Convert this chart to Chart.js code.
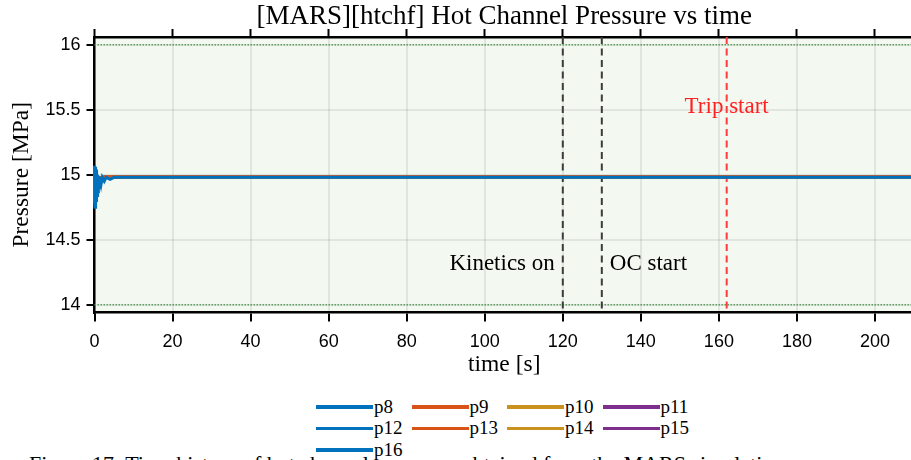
<!DOCTYPE html>
<html>
<head>
<meta charset="utf-8">
<title>Hot Channel Pressure</title>
<script src="https://cdn.jsdelivr.net/npm/chart.js@4.4.1/dist/chart.umd.min.js"></script>
<style>
  html, body { margin: 0; padding: 0; background: #fff; overflow: hidden; width: 911px; height: 460px; }
  #wrap { position: absolute; left: 0; top: 0; width: 914px; height: 380px; }
  #legend {
    position: absolute; left: 316px; top: 396px;
    display: grid; grid-template-columns: repeat(4, 95.5px); grid-auto-rows: 21.5px;
    font-family: 'Liberation Serif', serif; font-size: 19px; color: #000;
  }
  .item { display: flex; align-items: center; white-space: nowrap; }
  .swatch { width: 57px; height: 3.5px; margin-right: 1px; }
  #caption {
    position: absolute; left: 29px; top: 453px;
    font-family: 'Liberation Serif', serif; font-size: 22px; line-height: 1; white-space: nowrap;
  }
</style>
</head>
<body>
<div id="wrap"><canvas id="pressureChart"></canvas></div>
<div id="legend"></div>
<div id="caption">Figure 17: Time history of hot channel pressures obtained from the MARS simulation</div>
<script>
// series names and colours (colour order repeats every 4 channels)
const seriesNames = ['p8', 'p9', 'p10', 'p11', 'p12', 'p13', 'p14', 'p15', 'p16'];
const seriesColors = ['#0072BD', '#D95319', '#C9921E', '#7E2F8E', '#0072BD', '#D95319', '#C9921E', '#7E2F8E', '#0072BD'];

// time [s] for p8 (dense at the start to keep the initial transient)
const timeP8 = [0, 0.05, 0.1, 0.15, 0.2, 0.25, 0.3, 0.35, 0.4, 0.45, 0.5, 0.55, 0.6, 0.7, 0.8, 0.9, 1.0, 1.2, 1.4, 1.7, 2.0, 2.5, 3.0, 4.0, 5, 20, 60, 120, 130, 162, 180, 210];
// pressure [MPa]
const p8 = [15.07, 14.75, 15.07, 14.75, 15.06, 14.76, 15.05, 14.77, 15.04, 14.79, 15.03, 14.81, 15.02, 14.84, 15.0, 14.87, 14.99, 14.9, 14.985, 14.93, 14.98, 14.95, 14.98, 14.965, 14.98, 14.98, 14.98, 14.98, 14.98, 14.98, 14.981, 14.981];

// time [s] for the remaining channels
const timeOther = [0, 0.1, 0.2, 0.4, 0.8, 1.5, 3, 60, 120, 162, 210];
const p9  = [15.05, 14.80, 15.02, 14.88, 14.96, 14.975, 14.984, 14.984, 14.984, 14.985, 14.985];
const p10 = [15.04, 14.82, 15.01, 14.89, 14.96, 14.976, 14.984, 14.984, 14.984, 14.985, 14.985];
const p11 = [15.04, 14.83, 15.01, 14.90, 14.965, 14.977, 14.984, 14.984, 14.984, 14.985, 14.985];
const p12 = [15.06, 14.78, 15.03, 14.87, 14.955, 14.974, 14.982, 14.982, 14.982, 14.983, 14.983];
const p13 = [15.05, 14.79, 15.02, 14.88, 14.96, 14.975, 14.984, 14.984, 14.984, 14.985, 14.985];
const p14 = [15.04, 14.81, 15.01, 14.89, 14.96, 14.976, 14.984, 14.984, 14.984, 14.985, 14.985];
const p15 = [15.03, 14.84, 15.0, 14.90, 14.965, 14.977, 14.984, 14.984, 14.984, 14.985, 14.985];
const p16 = [15.06, 14.78, 15.03, 14.87, 14.955, 14.974, 14.982, 14.982, 14.982, 14.983, 14.983];

const seriesValues = [p8, p9, p10, p11, p12, p13, p14, p15, p16];
const seriesTimes = [timeP8, timeOther, timeOther, timeOther, timeOther, timeOther, timeOther, timeOther, timeOther];

// event times [s] and their labels
const eventTimes = [120, 130, 162];
const eventLabels = ['Kinetics on', 'OC start', 'Trip start'];
// pressure limits [MPa]
const limitLines = [16, 14];

// tick labels
const xTicks = [0, 20, 40, 60, 80, 100, 120, 140, 160, 180, 200];
const yTicks = [14, 14.5, 15, 15.5, 16];

const serif = "'Liberation Serif', 'Times New Roman', serif";
const sans = "'Liberation Sans', Arial, sans-serif";
const gridColor = 'rgba(0, 0, 0, 0.075)';

const datasets = seriesNames.map((name, i) => ({
  label: name,
  data: seriesTimes[i].map((t, k) => ({ x: t, y: seriesValues[i][k] })),
  borderColor: seriesColors[i],
  backgroundColor: seriesColors[i],
  borderWidth: 3,
  pointRadius: 0,
  tension: 0,
  clip: 3
}));

//light green plot background
const plotBackground = {
  id: 'plotBackground',
  beforeDraw(chart) {
    const { ctx, chartArea: a } = chart;
    ctx.save();
    ctx.fillStyle = '#f3f9f1';
    ctx.fillRect(a.left, a.top, a.right - a.left, a.bottom - a.top);
    ctx.restore();
  }
};

// limit lines, event lines and their labels
const eventMarkers = {
  id: 'eventMarkers',
  beforeDatasetsDraw(chart) {
    const { ctx, chartArea: a, scales } = chart;
    ctx.save();
    ctx.strokeStyle = '#5f9f5f';
    ctx.lineWidth = 1.5;
    ctx.setLineDash([1.5, 1.5]);
    limitLines.forEach(v => {
      const y = scales.y.getPixelForValue(v);
      ctx.beginPath();
      ctx.moveTo(a.left, y);
      ctx.lineTo(a.right, y);
      ctx.stroke();
    });
    ctx.lineWidth = 2;
    ctx.setLineDash([7, 4.5]);
    eventTimes.forEach((t, i) => {
      const x = scales.x.getPixelForValue(t);
      ctx.strokeStyle = i === 2 ? '#ff3b3b' : '#3c3c3c';
      ctx.beginPath();
      ctx.moveTo(x, a.top);
      ctx.lineTo(x, a.bottom);
      ctx.stroke();
    });
    ctx.restore();
  },
  afterDatasetsDraw(chart) {
    const { ctx, scales } = chart;
    ctx.save();
    ctx.font = '23px ' + serif;
    ctx.textBaseline = 'middle';
    const yLow = scales.y.getPixelForValue(14.31);
    const yHigh = scales.y.getPixelForValue(15.525);
    ctx.fillStyle = '#000';
    ctx.textAlign = 'right';
    ctx.fillText(eventLabels[0], scales.x.getPixelForValue(eventTimes[0]) - 8, yLow);
    ctx.textAlign = 'left';
    ctx.fillText(eventLabels[1], scales.x.getPixelForValue(eventTimes[1]) + 8, yLow);
    ctx.fillStyle = '#ff2020';
    ctx.textAlign = 'center';
    ctx.fillText(eventLabels[2], scales.x.getPixelForValue(eventTimes[2]), yHigh);
    ctx.restore();
  }
};

const ctx = document.getElementById('pressureChart').getContext('2d');
const myChart = new Chart(ctx, {
  type: 'line',
  data: { datasets: datasets },
  options: {
    responsive: true,
    maintainAspectRatio: false,
    animation: false,
    layout: { padding: 0 },
    plugins: {
      legend: { display: false },
      tooltip: { enabled: false },
      title: {
        display: true,
        fullSize: false,
        text: '[MARS][htchf] Hot Channel Pressure vs time',
        color: '#000',
        font: { family: serif, size: 27, weight: 'normal' },
        padding: { top: 1, bottom: 0 }
      }
    },
    scales: {
      x: {
        type: 'linear',
        position: 'bottom',
        min: 0,
        max: 210,
        afterBuildTicks: s => { s.ticks = xTicks.map(v => ({ value: v })); },
        afterFit: s => { s.height = 67.5; },
        ticks: { color: '#000', font: { family: sans, size: 18 }, padding: 10, maxRotation: 0, callback: v => String(v) },
        grid: { color: gridColor, lineWidth: 2, tickColor: '#000', tickLength: 9, tickWidth: 2 },
        border: { color: '#000', width: 2.5 },
        title: { display: true, text: 'time [s]', color: '#000', font: { family: serif, size: 23.5 }, padding: { top: 0, bottom: 1 } }
      },
      x2: {
        type: 'linear',
        position: 'top',
        min: 0,
        max: 210,
        afterBuildTicks: s => { s.ticks = xTicks.map(v => ({ value: v })); },
        afterFit: s => { s.height = 3.6; },
        ticks: { display: false },
        grid: { drawOnChartArea: false, tickColor: '#000', tickLength: 8, tickWidth: 2 },
        border: { color: '#000', width: 2.5 }
      },
      y: {
        type: 'linear',
        min: 13.94,
        max: 16.06,
        afterBuildTicks: s => { s.ticks = yTicks.map(v => ({ value: v })); },
        afterFit: s => { s.width = 94.5; },
        ticks: { color: '#000', font: { family: sans, size: 18 }, padding: 6, callback: v => String(v) },
        grid: { color: gridColor, lineWidth: 2, tickColor: '#000', tickLength: 8, tickWidth: 2 },
        border: { color: '#000', width: 2.5 },
        title: { display: true, text: 'Pressure [MPa]', color: '#000', font: { family: serif, size: 23.5 }, padding: { top: 8, bottom: 0 } }
      }
    }
  },
  plugins: [plotBackground, eventMarkers]
});

// legend in 4 columns below the chart
const legendEl = document.getElementById('legend');
seriesNames.forEach((name, i) => {
  const item = document.createElement('div');
  item.className = 'item';
  const sw = document.createElement('span');
  sw.className = 'swatch';
  sw.style.background = seriesColors[i];
  const label = document.createElement('span');
  label.textContent = name;
  item.appendChild(sw);
  item.appendChild(label);
  legendEl.appendChild(item);
});
</script>
</body>
</html>
